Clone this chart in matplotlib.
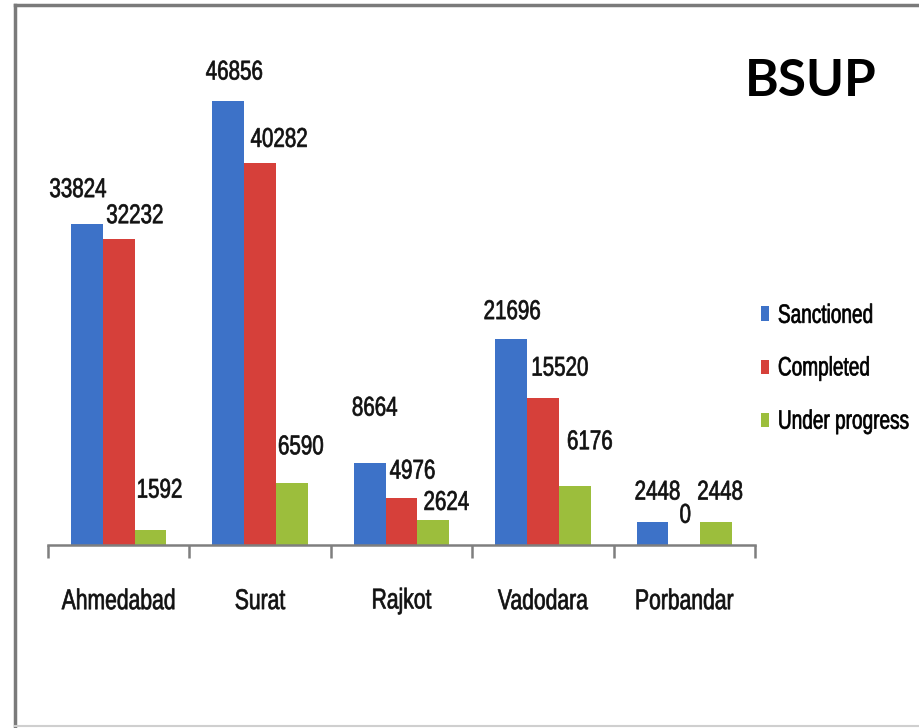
import matplotlib
matplotlib.use("Agg")
import matplotlib.pyplot as plt
import numpy as np
from matplotlib.lines import Line2D
from matplotlib import patheffects
from matplotlib.transforms import Affine2D

cities = ["Ahmedabad", "Surat", "Rajkot", "Vadodara", "Porbandar"]
series_names = ["Sanctioned", "Completed", "Under progress"]
sanctioned = [33824, 46856, 8664, 21696, 2448]
completed = [32232, 40282, 4976, 15520, 0]
under_progress = [1592, 6590, 2624, 6176, 2448]
title_text = "BSUP"

colors = ["#3D72C8", "#D6403A", "#9CBE3C"]
# label offsets (pixels) relative to bar top-center: (dx, dy)
label_offsets = [
    [(-9, 35), (16, 24), (9, 40)],
    [(6, 29), (19, 24), (9, 36)],
    [(5, 55), (11, 27), (13, 18)],
    [(1, 28), (17, 30), (15, 45)],
    [(5, 30), (1, 30), (4, 30)],
]


class Tall(patheffects.AbstractPathEffect):
    """Stretch text glyphs vertically about their centre (mimics a narrow font),
    with slight emboldening."""

    def __init__(self, sy=1.3, lw=0.6):
        super().__init__()
        self.sy = sy
        self.lw = lw

    def draw_path(self, renderer, gc, tpath, affine, rgbFace=None):
        v = tpath.vertices
        cy = (v[:, 1].min() + v[:, 1].max()) / 2.0 if len(v) else 0.0
        t = Affine2D().translate(0, -cy).scale(1, self.sy).translate(0, cy) + affine
        gc0 = renderer.new_gc()
        gc0.copy_properties(gc)
        if rgbFace is not None and self.lw > 0:
            gc0.set_linewidth(self.lw)
            gc0.set_foreground(rgbFace)
            gc0.set_joinstyle("round")
        renderer.draw_path(gc0, tpath, t, rgbFace)
        gc0.restore()


FONT = ["Liberation Sans", "DejaVu Sans"]

fig = plt.figure(figsize=(9.2, 7.28), dpi=100)
W, H = 920, 728
ax = fig.add_axes([48 / W, (H - 545) / H, (755 - 48) / W, 493 / H])

x = np.arange(len(cities))
bw = 0.225
data = [sanctioned, completed, under_progress]
for i, (vals, c, name) in enumerate(zip(data, colors, series_names)):
    pos = x + (i - 1) * bw
    ax.bar(pos, vals, width=bw, color=c, label=name, edgecolor="none")
    for j, (p, v) in enumerate(zip(pos, vals)):
        dx, dy = label_offsets[j][i]
        ax.annotate(str(v), (p, v), xytext=(dx, dy), textcoords="offset pixels",
                    ha="center", va="center", fontsize=14.8, family=FONT,
                    color="#111111", path_effects=[Tall(1.32, lw=0.5)])

ax.set_xlim(-0.5, len(cities) - 0.5)
ax.set_ylim(0, 52000)
for s in ["top", "right", "left"]:
    ax.spines[s].set_visible(False)
ax.spines["bottom"].set_color("#7f7f7f")
ax.spines["bottom"].set_linewidth(1.8)
ax.set_yticks([])
ax.set_xticks(np.arange(len(cities) + 1) - 0.5)
ax.set_xticklabels([])
ax.tick_params(axis="x", length=9, width=1.8, color="#7f7f7f", direction="out")
for i, name in enumerate(cities):
    ax.annotate(name, (i, 0), xytext=(0, -56), textcoords="offset pixels",
                ha="center", va="center", fontsize=15.2, family=FONT,
                color="#111111", path_effects=[Tall(1.35, lw=0.5)])

handles = [plt.Rectangle((0, 0), 1, 1, color=c) for c in colors]
leg = fig.legend(handles, series_names, loc="center left",
                 bbox_to_anchor=(761 / W, 1 - 368.5 / H), borderpad=0, borderaxespad=0,
                 frameon=False, prop={"family": FONT, "size": 13.7},
                 handlelength=0.42, handleheight=0.8, handletextpad=0.47,
                 labelspacing=1.86)
for t in leg.get_texts():
    t.set_path_effects([Tall(1.39, lw=0.5)])
for hnd in leg.legend_handles:
    hnd.set_edgecolor("none")

fig.text(811 / W, 1 - 81 / H, title_text, ha="center", va="center",
         fontsize=37, fontweight="bold", family="Lato", color="black")

# outer frame
fig.add_artist(Line2D([15 / W, 1], [1 - 5 / H, 1 - 5 / H], transform=fig.transFigure,
                      color="#7a7a7a", lw=2.5))
fig.add_artist(Line2D([15 / W, 15 / W], [1 - 5 / H, 2 / H], transform=fig.transFigure,
                      color="#7a7a7a", lw=2.5))
fig.add_artist(Line2D([15 / W, 1], [2 / H, 2 / H], transform=fig.transFigure,
                      color="#cfcfcf", lw=1.5))

fig.savefig("out.png", dpi=100)
